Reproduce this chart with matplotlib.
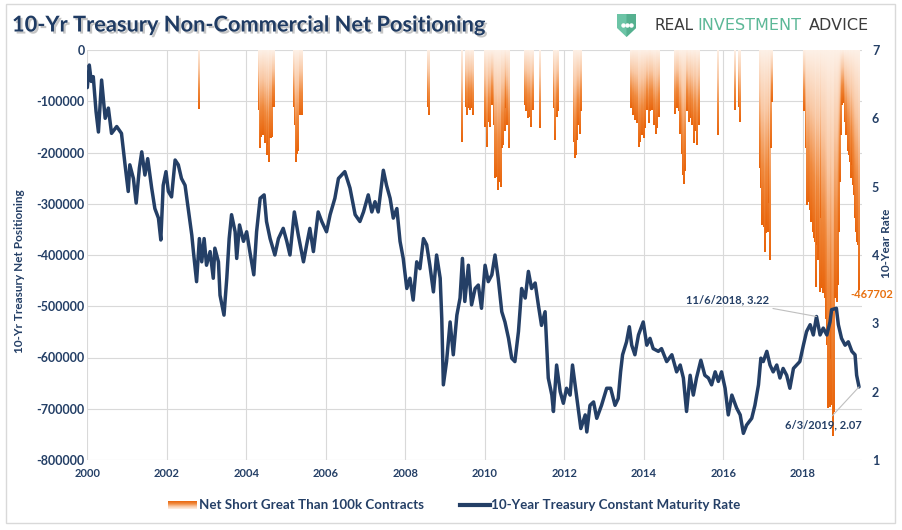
import numpy as np
import matplotlib.pyplot as plt
import matplotlib.patheffects as pe
from matplotlib.colors import LinearSegmentedColormap
from matplotlib.patches import Rectangle, Polygon
from matplotlib.lines import Line2D

W, H = 902, 530
NAVY = '#243f66'
ORANGE_TXT = '#e8700f'
GRID = '#d9d9d9'

# 10-year constant maturity rate (decimal year, %)
rate_years = [
    2000.00, 2000.05, 2000.10, 2000.15, 2000.22, 2000.28, 2000.36, 2000.45, 2000.53, 2000.61,
    2000.74, 2000.86, 2000.95, 2001.03, 2001.07, 2001.16, 2001.23, 2001.31, 2001.37, 2001.45,
    2001.52, 2001.62, 2001.70, 2001.79, 2001.85, 2001.91, 2001.98, 2002.04, 2002.12, 2002.21,
    2002.29, 2002.37, 2002.46, 2002.54, 2002.63, 2002.67, 2002.75, 2002.82, 2002.88, 2002.94,
    2003.00, 2003.09, 2003.17, 2003.21, 2003.30, 2003.34, 2003.44, 2003.51, 2003.57, 2003.63,
    2003.72, 2003.76, 2003.83, 2003.93, 2004.01, 2004.09, 2004.19, 2004.26, 2004.35, 2004.45,
    2004.51, 2004.60, 2004.72, 2004.81, 2004.93, 2005.02, 2005.10, 2005.21, 2005.31, 2005.44,
    2005.52, 2005.60, 2005.69, 2005.81, 2005.90, 2006.02, 2006.11, 2006.23, 2006.32, 2006.40,
    2006.48, 2006.61, 2006.74, 2006.86, 2006.95, 2007.07, 2007.16, 2007.24, 2007.32, 2007.45,
    2007.53, 2007.62, 2007.70, 2007.79, 2007.87, 2007.95, 2008.04, 2008.12, 2008.20, 2008.29,
    2008.37, 2008.46, 2008.54, 2008.62, 2008.71, 2008.79, 2008.88, 2008.92, 2008.96, 2009.04,
    2009.13, 2009.21, 2009.30, 2009.38, 2009.44, 2009.50, 2009.59, 2009.67, 2009.76, 2009.84,
    2009.92, 2010.01, 2010.09, 2010.18, 2010.26, 2010.34, 2010.43, 2010.51, 2010.60, 2010.68,
    2010.76, 2010.85, 2010.93, 2011.02, 2011.10, 2011.18, 2011.27, 2011.35, 2011.43, 2011.52,
    2011.60, 2011.69, 2011.73, 2011.81, 2011.90, 2011.98, 2012.06, 2012.15, 2012.21, 2012.32,
    2012.42, 2012.53, 2012.57, 2012.65, 2012.74, 2012.82, 2012.94, 2013.07, 2013.17, 2013.28,
    2013.36, 2013.42, 2013.47, 2013.57, 2013.64, 2013.70, 2013.78, 2013.87, 2013.99, 2014.08,
    2014.16, 2014.24, 2014.37, 2014.45, 2014.58, 2014.71, 2014.83, 2014.92, 2015.00, 2015.08,
    2015.17, 2015.25, 2015.33, 2015.44, 2015.54, 2015.63, 2015.71, 2015.80, 2015.88, 2015.96,
    2016.05, 2016.13, 2016.22, 2016.34, 2016.43, 2016.51, 2016.59, 2016.72, 2016.80, 2016.89,
    2016.95, 2017.01, 2017.10, 2017.18, 2017.26, 2017.35, 2017.43, 2017.51, 2017.60, 2017.68,
    2017.77, 2017.85, 2017.93, 2018.02, 2018.10, 2018.19, 2018.27, 2018.35, 2018.44, 2018.52,
    2018.61, 2018.69, 2018.73, 2018.85, 2018.90, 2018.98, 2019.07, 2019.15, 2019.24, 2019.32,
    2019.36, 2019.42,
]
rate_values = [
    6.45, 6.78, 6.54, 6.61, 6.10, 5.80, 6.56, 6.00, 6.15, 5.78,
    5.88, 5.78, 5.32, 4.93, 5.32, 5.12, 4.76, 5.27, 5.51, 5.17,
    5.41, 4.98, 4.68, 4.54, 4.22, 5.02, 5.22, 4.93, 4.85, 5.39,
    5.32, 5.12, 5.02, 4.68, 4.29, 4.05, 3.61, 4.24, 3.90, 4.24,
    3.85, 4.05, 3.66, 4.10, 3.90, 3.41, 3.12, 3.66, 4.24, 4.59,
    4.34, 3.95, 4.44, 4.20, 4.34, 4.05, 3.71, 4.34, 4.83, 4.88,
    4.49, 4.24, 4.00, 4.24, 4.39, 4.20, 4.00, 4.63, 4.29, 3.90,
    4.15, 4.39, 4.05, 4.63, 4.49, 4.34, 4.59, 4.83, 5.12, 5.17,
    5.22, 4.98, 4.59, 4.49, 4.63, 4.88, 4.63, 4.78, 4.63, 5.24,
    5.02, 4.83, 4.54, 4.68, 4.20, 3.95, 3.51, 3.66, 3.34, 3.90,
    3.80, 4.24, 4.15, 3.85, 3.46, 4.00, 3.66, 3.07, 2.10, 2.44,
    3.02, 2.54, 3.12, 3.37, 3.95, 3.32, 3.85, 3.27, 3.51, 3.56,
    3.22, 3.85, 3.61, 3.71, 4.00, 3.66, 3.17, 3.02, 2.78, 2.49,
    2.44, 2.88, 3.51, 3.37, 3.76, 3.51, 3.59, 3.27, 2.97, 3.17,
    2.20, 1.95, 1.71, 2.39, 2.00, 1.83, 2.05, 1.95, 2.39, 1.90,
    1.46, 1.66, 1.41, 1.80, 1.85, 1.61, 1.80, 2.05, 2.05, 1.80,
    1.90, 2.29, 2.54, 2.73, 2.95, 2.68, 2.54, 2.83, 3.02, 2.68,
    2.78, 2.63, 2.59, 2.63, 2.44, 2.54, 2.29, 2.39, 2.20, 1.71,
    2.24, 1.95, 2.20, 2.46, 2.24, 2.20, 2.10, 2.29, 2.15, 2.29,
    2.05, 1.66, 1.95, 1.76, 1.66, 1.39, 1.51, 1.61, 1.80, 2.10,
    2.49, 2.44, 2.59, 2.39, 2.29, 2.39, 2.20, 2.34, 2.24, 2.05,
    2.34, 2.39, 2.44, 2.68, 2.88, 2.98, 2.83, 3.10, 2.83, 2.93,
    2.83, 3.02, 3.20, 3.22, 2.98, 2.78, 2.68, 2.73, 2.59, 2.54,
    2.24, 2.07,
]

# weeks with net short positioning beyond 100k contracts
short_years = [
    2002.81,
    2004.30, 2004.33, 2004.37, 2004.41, 2004.45, 2004.47, 2004.50, 2004.53, 2004.55, 2004.58,
    2004.61, 2004.64, 2004.67, 2004.68,
    2005.18, 2005.21, 2005.23, 2005.27, 2005.30, 2005.33, 2005.37, 2005.40,
    2008.56, 2008.59,
    2009.42, 2009.52, 2009.55, 2009.59, 2009.63, 2009.67, 2009.70,
    2010.01, 2010.05, 2010.09, 2010.13, 2010.18, 2010.22, 2010.26, 2010.28, 2010.32, 2010.35,
    2010.39, 2010.42, 2010.45, 2010.49, 2010.52, 2010.55, 2010.59,
    2011.00, 2011.04, 2011.09, 2011.12, 2011.16, 2011.20, 2011.37,
    2011.73, 2011.77, 2011.81, 2011.84,
    2012.23, 2012.25, 2012.29, 2012.31, 2012.35, 2012.38, 2012.41,
    2013.66, 2013.68, 2013.72, 2013.78, 2013.82, 2013.87, 2013.91, 2013.95, 2013.99, 2014.03,
    2014.08, 2014.12, 2014.16, 2014.20, 2014.24, 2014.29, 2014.33, 2014.37,
    2014.79, 2014.83, 2014.87, 2014.91, 2014.96, 2014.98, 2015.01, 2015.04, 2015.08, 2015.12,
    2015.17, 2015.21, 2015.25, 2015.29, 2015.33, 2015.38,
    2015.85, 2016.28, 2016.38, 2016.42,
    2016.93, 2016.95, 2016.98, 2017.01, 2017.04, 2017.06, 2017.10, 2017.12, 2017.15, 2017.18,
    2017.20, 2017.23,
    2018.03, 2018.07, 2018.10, 2018.14, 2018.17, 2018.20, 2018.24, 2018.27, 2018.30, 2018.32,
    2018.35, 2018.38, 2018.40, 2018.43, 2018.45, 2018.48, 2018.50, 2018.53, 2018.56, 2018.58,
    2018.61, 2018.63, 2018.66, 2018.68, 2018.71, 2018.73, 2018.76, 2018.78, 2018.81, 2018.83,
    2018.86, 2018.88, 2018.91, 2018.93, 2018.96, 2018.98, 2019.01, 2019.03, 2019.06, 2019.08,
    2019.11, 2019.13, 2019.16, 2019.18, 2019.21, 2019.24, 2019.26, 2019.29, 2019.31, 2019.34,
    2019.36, 2019.38, 2019.40, 2019.41, 2019.42,
]
short_values = [
    -116000,
    -117000, -192000, -169000, -166000, -179000, -182000, -205000, -185000, -218000, -172000,
    -172000, -169000, -111000, -111000,
    -111000, -146000, -218000, -202000, -197000, -127000, -127000, -127000,
    -111000, -127000,
    -180000, -111000, -127000, -114000, -117000, -114000, -127000,
    -150000, -189000, -140000, -150000, -107000, -146000, -250000, -247000, -273000, -257000,
    -267000, -192000, -185000, -159000, -114000, -146000, -192000,
    -107000, -120000, -133000, -130000, -150000, -117000, -152000,
    -114000, -176000, -130000, -120000,
    -180000, -211000, -205000, -176000, -146000, -163000, -120000,
    -107000, -113000, -127000, -137000, -143000, -189000, -179000, -166000, -172000, -153000,
    -117000, -143000, -120000, -117000, -146000, -163000, -153000, -130000,
    -124000, -114000, -120000, -163000, -202000, -244000, -262000, -237000, -120000, -140000,
    -133000, -146000, -182000, -159000, -185000, -146000,
    -166000, -117000, -111000, -141000,
    -231000, -270000, -341000, -345000, -394000, -358000, -341000, -355000, -299000, -410000,
    -192000, -101000,
    -120000, -192000, -302000, -296000, -312000, -335000, -355000, -367000, -374000, -462000,
    -380000, -410000, -394000, -472000, -328000, -465000, -475000, -472000, -484000, -524000,
    -576000, -699000, -693000, -696000, -602000, -693000, -754000, -706000, -484000, -484000,
    -491000, -459000, -355000, -257000, -166000, -107000, -104000, -102000, -140000, -166000,
    -163000, -198000, -205000, -218000, -250000, -224000, -263000, -283000, -328000, -355000,
    -374000, -380000, -406000, -445000, -467702,
]

x_ticks = [2000, 2002, 2004, 2006, 2008, 2010, 2012, 2014, 2016, 2018]
left_ticks = list(range(-800000, 1, 100000))
right_ticks = [1, 2, 3, 4, 5, 6, 7]

plt.rcParams['font.family'] = ['Lato', 'DejaVu Sans']


def fx(px):
    return px / W


def fy(py):
    return 1 - py / H


fig = plt.figure(figsize=(W / 100, H / 100), dpi=100)
fig.patch.set_facecolor('white')

ax = fig.add_axes([fx(87.3), fy(460), (862.2 - 87.3) / W, 410 / H])
ax2 = ax.twinx()

# orange bars with a vertical gradient, pale at zero and strong at the tip
cmap = LinearSegmentedColormap.from_list(
    'short', ['#fdf0e6', '#f9c8a4', '#f08a3e', '#e9650c'])
grad = np.linspace(0, 1, 100).reshape(-1, 1)
bw = 0.03
for yr, v in zip(short_years, short_values):
    ax.imshow(grad, cmap=cmap, extent=(yr - bw / 2, yr + bw / 2, v, 0),
              aspect='auto', interpolation='bilinear', zorder=2)

ax.set_xlim(2000, 2019.5)
ax.set_ylim(-800000, 0)
ax.set_xticks(x_ticks)
ax.set_xticklabels([str(t) for t in x_ticks])
ax.set_yticks(left_ticks)
ax.set_yticklabels([str(t) for t in left_ticks])
ax.grid(True, color=GRID, lw=0.8)
ax.set_axisbelow(True)

ax2.plot(rate_years, rate_values, color=NAVY, lw=2.5,
         solid_joinstyle='round', solid_capstyle='round', zorder=3)
ax2.set_ylim(1, 7)
ax2.set_yticks(right_ticks)
ax2.set_xlim(2000, 2019.5)

for a in (ax, ax2):
    for s in a.spines.values():
        s.set_visible(False)
    a.tick_params(length=0, labelsize=8, labelcolor=NAVY)
    for lab in a.get_xticklabels() + a.get_yticklabels():
        lab.set_fontweight('bold')
ax.tick_params(axis='x', pad=6)
ax.tick_params(axis='y', labelsize=9, pad=2)
ax2.tick_params(axis='y', labelsize=9, pad=7)

# point labels
ax2.annotate('11/6/2018, 3.22', xy=(rate_years[-15], rate_values[-15]),
             xytext=(2017.15, 3.34), ha='right', va='center', color=NAVY,
             fontsize=8, fontweight='bold',
             arrowprops=dict(arrowstyle='-', color='#bfbfbf', lw=0.8,
                             shrinkA=1, shrinkB=0))
ax2.annotate('6/3/2019, 2.07', xy=(rate_years[-1], rate_values[-1]),
             xytext=(2018.53, 1.51), ha='center', va='center', color=NAVY,
             fontsize=8, fontweight='bold',
             arrowprops=dict(arrowstyle='-', color='#bfbfbf', lw=0.8,
                             shrinkA=1, shrinkB=0))
ax.text(2019.19, short_values[-1] - 10000, str(short_values[-1]), color=ORANGE_TXT,
        ha='left', va='center', fontsize=8, fontweight='bold', clip_on=False, zorder=5)

# axis titles
fig.text(fx(20), fy(271), '10-Yr Treasury Net Positioning', rotation=90,
         ha='center', va='center', fontsize=8.5, fontweight='bold', color=NAVY)
fig.text(fx(887), fy(243), '10-Year Rate', rotation=90,
         ha='center', va='center', fontsize=8.5, fontweight='bold', color=NAVY)

# title
fig.text(fx(12), fy(25), '10-Yr Treasury Non-Commercial Net Positioning',
         ha='left', va='center', fontsize=15.7, fontweight='bold', color='#1f3b63',
         path_effects=[pe.withSimplePatchShadow(offset=(1.5, -1.5),
                                                shadow_rgbFace='#808080', alpha=0.45)])

# logo
shield = [(617, 14), (636, 14), (636, 28), (626.5, 37), (617, 28)]
fig.add_artist(Polygon([(fx(a), fy(b)) for a, b in shield], closed=True,
                       transform=fig.transFigure, fc='#6cc4a6', ec='none'))
shield_r = [(626.5, 14), (636, 14), (636, 28), (626.5, 37)]
fig.add_artist(Polygon([(fx(a), fy(b)) for a, b in shield_r], closed=True,
                       transform=fig.transFigure, fc='#55b08f', ec='none'))
fig.add_artist(Line2D([fx(622.5), fx(626.5), fx(630.5)], [fy(24.5)] * 3, ls='',
                      marker='o', ms=2.2, color='white', transform=fig.transFigure))
fig.text(fx(655), fy(25), 'REAL', ha='left', va='center', fontsize=11,
         color='#3b3b3b', family='DejaVu Sans')
fig.text(fx(697), fy(25), 'INVESTMENT', ha='left', va='center', fontsize=11.5,
         color='#5cb897', family='DejaVu Sans')
fig.text(fx(809), fy(25), 'ADVICE', ha='left', va='center', fontsize=11.5,
         color='#3b3b3b', family='DejaVu Sans')

# legend
lax = fig.add_axes([fx(168), fy(509), 29 / W, 8 / H])
lax.imshow(grad[::-1], cmap=cmap, aspect='auto', interpolation='bilinear')
lax.axis('off')
fig.text(fx(199), fy(505), 'Net Short Great Than 100k Contracts', ha='left',
         va='center', fontsize=9.6, fontweight='bold', color=NAVY)
fig.add_artist(Line2D([fx(460), fx(490)], [fy(505)] * 2, lw=3, color=NAVY,
                      transform=fig.transFigure))
fig.text(fx(491), fy(505), '10-Year Treasury Constant Maturity Rate', ha='left',
         va='center', fontsize=9.6, fontweight='bold', color=NAVY)

# outer frame
fig.add_artist(Rectangle((fx(6), fy(523)), 889 / W, 519 / H, fill=False,
                         ec='#d9d9d9', lw=1, transform=fig.transFigure))

fig.savefig('out.png', dpi=100)
